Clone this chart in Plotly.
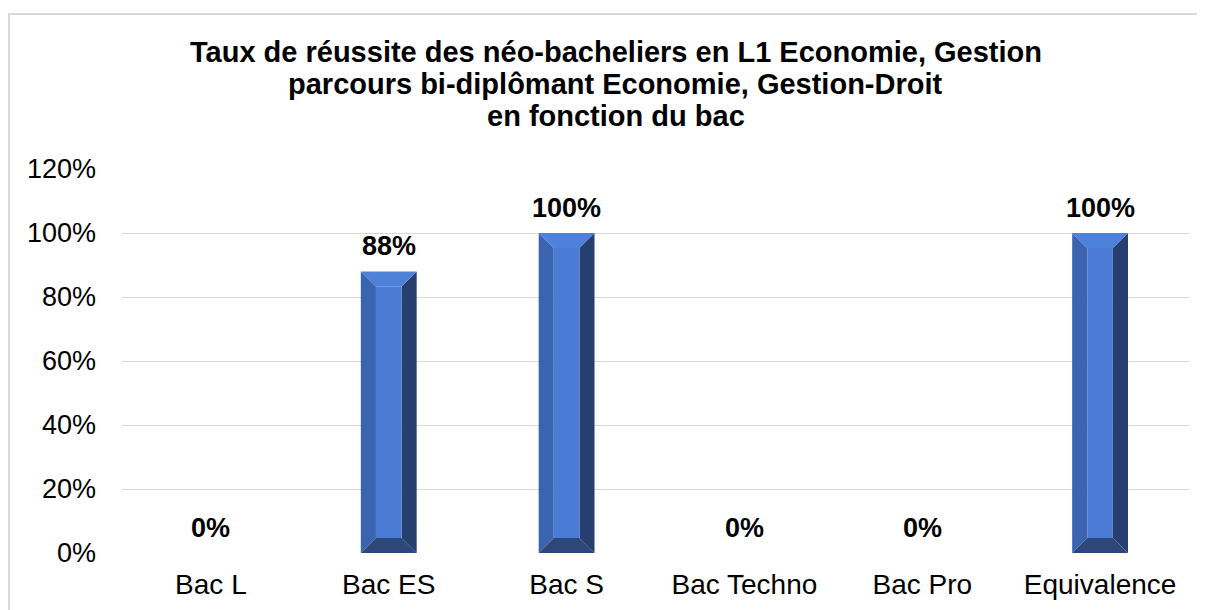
import plotly.graph_objects as go

categories = ["Bac L", "Bac ES", "Bac S", "Bac Techno", "Bac Pro", "Equivalence"]
rates = [0.0, 0.88, 1.0, 0.0, 0.0, 1.0]
y_ticks = [0, 0.2, 0.4, 0.6, 0.8, 1.0, 1.2]
y_tick_labels = ["0%", "20%", "40%", "60%", "80%", "100%", "120%"]
title_lines = [
    "Taux de réussite des néo-bacheliers en L1 Economie, Gestion",
    "parcours bi-diplômant Economie, Gestion-Droit",
    "en fonction du bac",
]

FONT = "Liberation Sans, Arial, sans-serif"
HALF_W = 0.157      # half bar width (category units)
BEV_X = 0.085       # bevel width (category units)
BEV_Y = 0.047       # bevel height (value units)

C_CENTER = "#4A7CD5"
C_TOP = "#4E81DA"
C_LEFT = "#3A64AF"
C_RIGHT = "#263F6F"
C_BOTTOM = "#2D4878"

W, H = 1197, 602
ML, MR, MT, MB = 114, 16, 161, 57
PW, PH = W - ML - MR, H - MT - MB

fig = go.Figure()

for i, v in enumerate(rates):
    if v <= 0:
        continue
    x0, x1 = i - HALF_W, i + HALF_W
    ix0, ix1 = x0 + BEV_X, x1 - BEV_X
    y0, y1 = 0.0, v
    iy0, iy1 = y0 + BEV_Y, y1 - BEV_Y
    polys = [
        ([x0, ix0, ix0, x0], [y0, iy0, iy1, y1], C_LEFT),
        ([x1, ix1, ix1, x1], [y0, iy0, iy1, y1], C_RIGHT),
        ([x0, x1, ix1, ix0], [y1, y1, iy1, iy1], C_TOP),
        ([x0, x1, ix1, ix0], [y0, y0, iy0, iy0], C_BOTTOM),
        ([ix0, ix1, ix1, ix0], [iy0, iy0, iy1, iy1], C_CENTER),
    ]
    for px, py, col in polys:
        fig.add_trace(go.Scatter(
            x=px + [px[0]], y=py + [py[0]], fill="toself", fillcolor=col,
            mode="lines", line=dict(width=0, color=col),
            hoverinfo="skip", showlegend=False,
        ))

for i, v in enumerate(rates):
    fig.add_annotation(
        x=i, y=v, text=f"<b>{round(v * 100)}%</b>", showarrow=False,
        yshift=25, yanchor="middle", xanchor="center",
        font=dict(family=FONT, size=27, color="#000000"),
    )

# title lines (figure-pixel centres 44, 76, 108)
title_x = (615.5 - 8 - ML) / PW
for k, line in enumerate(title_lines):
    fy = 44 + 32 * k
    fig.add_annotation(
        xref="paper", yref="paper", x=title_x, y=1 + (MT - fy) / PH,
        text=f"<b>{line}</b>", showarrow=False,
        xanchor="center", yanchor="middle",
        font=dict(family=FONT, size=29, color="#000000"),
    )

fig.update_layout(
    width=W, height=H,
    margin=dict(l=ML, r=MR, t=MT, b=MB),
    paper_bgcolor="white", plot_bgcolor="white",
    showlegend=False,
    font=dict(family=FONT, size=27, color="#000000"),
    xaxis=dict(
        range=[-0.5, len(categories) - 0.5],
        tickvals=list(range(len(categories))), ticktext=categories,
        showgrid=False, zeroline=False, showline=False, ticks="",
        ticklabelstandoff=12, automargin=False,
        tickfont=dict(family=FONT, size=28, color="#000000"),
        fixedrange=True,
    ),
    yaxis=dict(
        range=[0, 1.2], tickvals=y_ticks, ticktext=y_tick_labels,
        showgrid=True, gridcolor="#D9D9D9", gridwidth=1.3,
        zeroline=False, showline=False, ticks="",
        ticklabelstandoff=25, automargin=False,
        tickfont=dict(family=FONT, size=27, color="#000000"),
        fixedrange=True,
    ),
    shapes=[dict(
        type="rect", xref="paper", yref="paper",
        x0=(1 - ML) / PW, x1=(1196 - ML) / PW,
        y0=-0.3, y1=1 + (MT - 6) / PH,
        line=dict(color="#D9D9D9", width=2), fillcolor="rgba(0,0,0,0)",
        layer="below",
    )],
)

fig.write_html("out.html")
